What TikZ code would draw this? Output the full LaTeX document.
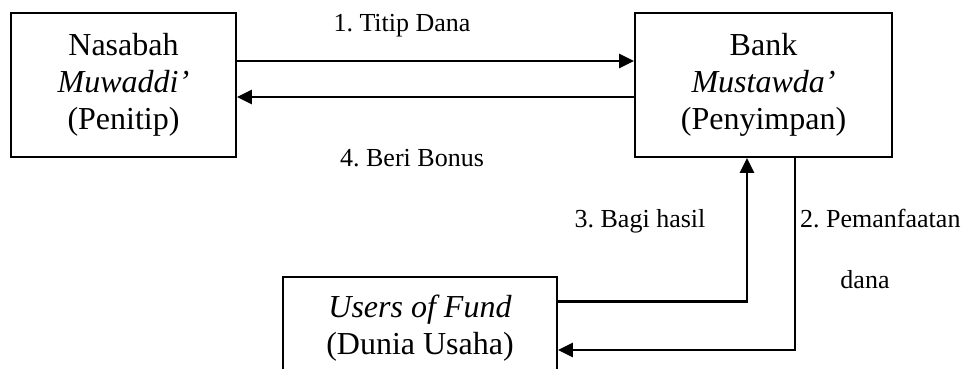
\documentclass[tikz,border=0pt]{standalone}
\usepackage{fontspec}
\setmainfont{Liberation Serif}
\usetikzlibrary{arrows.meta}
\frenchspacing
\begin{document}
\begin{tikzpicture}[x=1pt,y=-1pt,
  party/.style={draw,line width=1.8pt,align=center,inner sep=0pt,
    font=\fontsize{32}{37}\selectfont},
  flow/.style={line width=2.8pt,-{Triangle[length=15pt,width=14pt]}},
  thinflow/.style={line width=1.8pt},
  lbl/.style={font=\fontsize{26}{30}\selectfont,inner sep=0pt,anchor=base}]
\useasboundingbox (0,0) rectangle (968,369);
\clip (0,0) rectangle (968,369);

% the three parties
\node[party,minimum width=225pt,minimum height=144pt] (nas) at (123.5,85)
  {Nasabah\\\textit{Muwaddi’}\\(Penitip)};
\node[party,minimum width=257pt,minimum height=144pt] (bank) at (763.5,85)
  {Bank\\\textit{Mustawda’}\\(Penyimpan)};
\node[party,minimum width=274pt,minimum height=103pt] (users) at (420,328.5)
  {\textit{Users of Fund}\\(Dunia Usaha)};

% deposit and bonus
\draw[flow] ([yshift=24pt]nas.east) -- ([yshift=24pt]bank.west);
\draw[flow] ([yshift=-12pt]bank.west) -- ([yshift=-12pt]nas.east);

% profit sharing back to the bank
\draw[flow] ([yshift=-25pt]users.north east) -| ([xshift=-16.5pt]bank.south);

% use of funds
\coordinate (turn) at (795,350);
\draw[thinflow] ([xshift=31.5pt]bank.south) -- (turn);
\draw[flow] ([xshift=0.9pt]turn) -- (turn -| users.east);

% labels
\node[lbl] (l1) at (402,32) {1. Titip Dana};
\node[lbl] (l4) at (412,166) {4. Beri Bonus};
\node[lbl] (l3) at (640,227) {3. Bagi hasil};
\node[lbl,anchor=base west] (l2) at (800,227) {2. Pemanfaatan};
\node[lbl] (l2b) at (865,288) {dana};
\end{tikzpicture}
\end{document}
